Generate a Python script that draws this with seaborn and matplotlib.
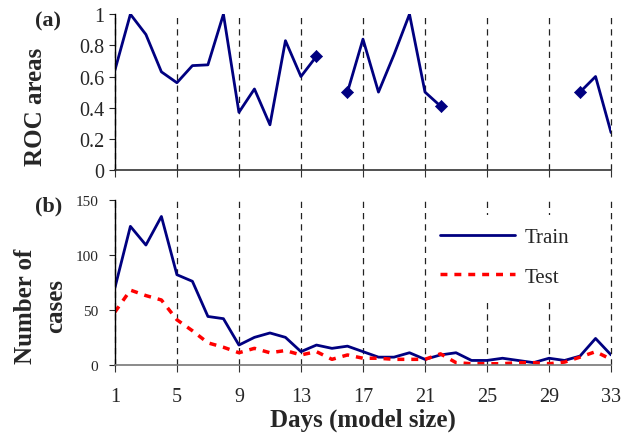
import numpy as np
import pandas as pd
import seaborn as sns
import matplotlib.pyplot as plt

# Days 1..33
days = list(range(1, 34))

# ROC areas per day (NaN = no value)
roc = [0.64, 1.0, 0.87, 0.63, 0.56, 0.67, 0.675, 1.0, 0.37, 0.52,
       0.29, 0.83, 0.60, 0.73, np.nan, 0.50, 0.84, 0.50, 0.74, 1.0,
       0.50, 0.41, np.nan, np.nan, np.nan, np.nan, np.nan, np.nan, np.nan, np.nan,
       0.50, 0.60, 0.24]
# isolated end points drawn with diamonds
diamond_days = [14, 16, 22, 31]

train_cases = [70, 126, 109, 135, 82, 76, 44, 42, 18, 25,
               29, 25, 12, 18, 15, 17, 12, 7, 7, 11,
               5, 9, 11, 4, 4, 6, 4, 2, 6, 4,
               8, 24, 9]
test_cases = [48, 68, 63, 59, 41, 31, 20, 16, 11, 15,
              11, 13, 9, 12, 5, 9, 6, 6, 5, 5,
              5, 10, 2, 1, 1, 1, 2, 2, 1, 2.5,
              7, 12, 5]

day_ticks = list(range(1, 34, 4))

navy = "#000080"
red = "#ff0000"

sns.set_style("white")
plt.rcParams["font.family"] = ["Liberation Serif", "DejaVu Serif"]

roc_df = pd.DataFrame({"day": days, "roc": roc})
roc_df["seg"] = np.cumsum(roc_df["roc"].isna())
roc_df = roc_df.dropna()
dia_df = roc_df[roc_df["day"].isin(diamond_days)]

cases_df = pd.DataFrame({"day": days, "Train": train_cases, "Test": test_cases})

fig = plt.figure(figsize=(6.21, 4.35), dpi=100)
ax1 = fig.add_axes([0.185, 0.607, 0.799, 0.358])
ax2 = fig.add_axes([0.185, 0.159, 0.799, 0.379])

# (a) ROC areas
sns.lineplot(data=roc_df, x="day", y="roc", units="seg", estimator=None,
             color=navy, lw=2, ax=ax1)
sns.scatterplot(data=dia_df, x="day", y="roc", marker="D", s=38,
                color=navy, edgecolor=navy, ax=ax1, zorder=3)
ax1.set_ylim(0, 1)
ax1.set_yticks([0, 0.2, 0.4, 0.6, 0.8, 1])
ax1.set_yticklabels(["0", "0.2", "0.4", "0.6", "0.8", "1"])
ax1.tick_params(axis="y", labelsize=14.5, length=4, direction="out", left=True)
ax1.set_ylabel("ROC areas", fontsize=18, fontweight="bold")
ax1.yaxis.set_label_coords(-0.137, 0.41)
ax1.set_xticklabels([])
ax1.text(-0.134, 0.96, "(a)", transform=ax1.transAxes, fontsize=16,
         fontweight="bold", va="center", ha="center")

# (b) Number of cases
sns.lineplot(data=cases_df, x="day", y="Train", color=navy, lw=2,
             label="Train", ax=ax2)
sns.lineplot(data=cases_df, x="day", y="Test", color=red, lw=2.5,
             label="Test", ax=ax2)
ax2.lines[-1].set_linestyle((0, (2, 2)))
ax2.set_ylim(0, 150)
ax2.set_yticks([0, 50, 100, 150])
ax2.tick_params(axis="y", labelsize=11, length=4, direction="out", left=True,
                pad=8)
ax2.set_ylabel("Number of\ncases", fontsize=18, fontweight="bold",
               linespacing=1.35)
ax2.yaxis.set_label_coords(-0.097, 0.36)
ax2.set_xlabel("Days (model size)", fontsize=18, fontweight="bold", labelpad=1)
ax2.tick_params(axis="x", labelsize=14.5, pad=11)
ax2.text(-0.134, 0.964, "(b)", transform=ax2.transAxes, fontsize=16,
         fontweight="bold", va="center", ha="center")

leg = ax2.legend(loc="upper left", bbox_to_anchor=(0.61, 0.97), fontsize=15,
                 frameon=True, fancybox=False, framealpha=1,
                 handlelength=3.6, handletextpad=0.45, labelspacing=0.95,
                 borderpad=0.6)
leg.get_frame().set_edgecolor("none")
leg.get_lines()[1].set_linestyle((0, (2, 2)))

for ax in (ax1, ax2):
    ax.set_xlim(1, 33)
    ax.set_xticks(day_ticks)
    ax.tick_params(axis="x", length=5, direction="out", bottom=True, color="#333333")
    ax.grid(axis="x", linestyle=(0, (5, 4)), color="#222222", lw=0.9)
    ax.grid(axis="y", visible=False)
    for gl in ax.xaxis.get_gridlines():
        gl.set_clip_on(False)
    ax.set_axisbelow(True)
    ax.spines["top"].set_visible(False)
    ax.spines["right"].set_visible(False)
    ax.spines["left"].set_color("black")
    ax.spines["left"].set_linewidth(1.0)
    ax.spines["bottom"].set_linewidth(1.2)
ax1.set_xlabel("")
ax1.spines["bottom"].set_color("#333333")
ax2.spines["bottom"].set_color("#777777")

fig.savefig("out.png", dpi=100)
